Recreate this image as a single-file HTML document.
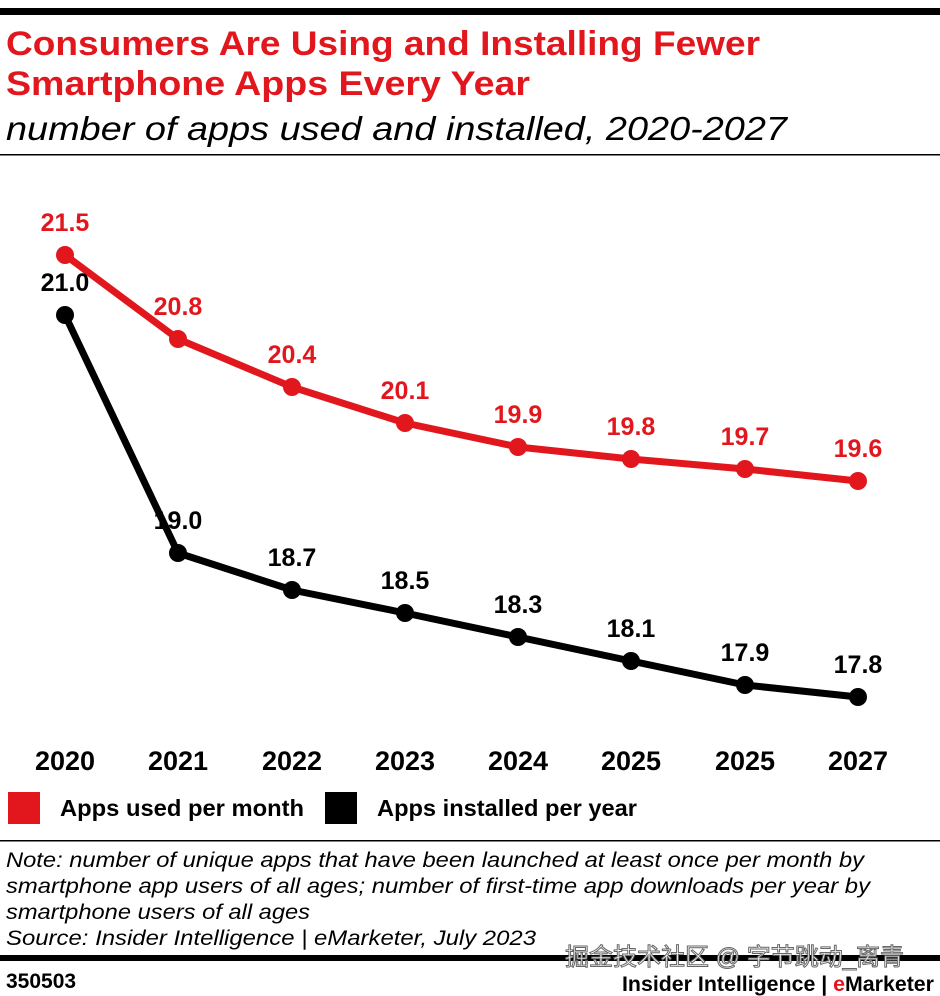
<!DOCTYPE html>
<html><head><meta charset="utf-8"><style>
body{margin:0;background:#fff;}
</style></head><body>
<svg width="940" height="996" xmlns="http://www.w3.org/2000/svg" style="display:block;font-family:'Liberation Sans',sans-serif">
<rect x="0" y="8" width="940" height="7" fill="#000"/>
<text x="6" y="55" font-size="34" font-weight="bold" fill="#e2171e" textLength="754" lengthAdjust="spacingAndGlyphs">Consumers Are Using and Installing Fewer</text>
<text x="6" y="95" font-size="34" font-weight="bold" fill="#e2171e" textLength="524" lengthAdjust="spacingAndGlyphs">Smartphone Apps Every Year</text>
<text x="6" y="140" font-size="33" font-style="italic" fill="#000" textLength="781" lengthAdjust="spacingAndGlyphs">number of apps used and installed, 2020-2027</text>
<rect x="0" y="154" width="940" height="1.5" fill="#000"/>
<polyline fill="none" stroke="#e2171e" stroke-width="7" stroke-linejoin="round" points="65,255 178,339 292,387 405,423 518,447 631,459 745,469 858,481"/>
<polyline fill="none" stroke="#000" stroke-width="7" stroke-linejoin="round" points="65,315 178,553 292,590 405,613 518,637 631,661 745,685 858,697"/>
<g fill="#e2171e"><circle cx="65" cy="255" r="9"/><circle cx="178" cy="339" r="9"/><circle cx="292" cy="387" r="9"/><circle cx="405" cy="423" r="9"/><circle cx="518" cy="447" r="9"/><circle cx="631" cy="459" r="9"/><circle cx="745" cy="469" r="9"/><circle cx="858" cy="481" r="9"/></g>
<g fill="#000"><circle cx="65" cy="315" r="9"/><circle cx="178" cy="553" r="9"/><circle cx="292" cy="590" r="9"/><circle cx="405" cy="613" r="9"/><circle cx="518" cy="637" r="9"/><circle cx="631" cy="661" r="9"/><circle cx="745" cy="685" r="9"/><circle cx="858" cy="697" r="9"/></g>
<g font-size="25" font-weight="bold" text-anchor="middle" fill="#e2171e">
<text x="65" y="231">21.5</text><text x="178" y="315">20.8</text><text x="292" y="363">20.4</text><text x="405" y="399">20.1</text><text x="518" y="423">19.9</text><text x="631" y="435">19.8</text><text x="745" y="445">19.7</text><text x="858" y="457">19.6</text></g>
<g font-size="25" font-weight="bold" text-anchor="middle" fill="#000">
<text x="65" y="291">21.0</text><text x="178" y="529">19.0</text><text x="292" y="566">18.7</text><text x="405" y="589">18.5</text><text x="518" y="613">18.3</text><text x="631" y="637">18.1</text><text x="745" y="661">17.9</text><text x="858" y="673">17.8</text></g>
<g font-size="27" font-weight="bold" text-anchor="middle" fill="#000">
<text x="65" y="770">2020</text><text x="178" y="770">2021</text><text x="292" y="770">2022</text><text x="405" y="770">2023</text><text x="518" y="770">2024</text><text x="631" y="770">2025</text><text x="745" y="770">2025</text><text x="858" y="770">2027</text></g>
<rect x="8" y="792" width="32" height="32" fill="#e2171e"/>
<text x="60" y="816" font-size="23" font-weight="bold" textLength="244" lengthAdjust="spacingAndGlyphs">Apps used per month</text>
<rect x="325" y="792" width="32" height="32" fill="#000"/>
<text x="377" y="816" font-size="23" font-weight="bold" textLength="260" lengthAdjust="spacingAndGlyphs">Apps installed per year</text>
<rect x="0" y="840" width="940" height="1.5" fill="#000"/>
<g font-size="21" font-style="italic" fill="#000" lengthAdjust="spacingAndGlyphs">
<text x="6" y="867" textLength="858" lengthAdjust="spacingAndGlyphs">Note: number of unique apps that have been launched at least once per month by</text>
<text x="6" y="893" textLength="864" lengthAdjust="spacingAndGlyphs">smartphone app users of all ages; number of first-time app downloads per year by</text>
<text x="6" y="919" textLength="304" lengthAdjust="spacingAndGlyphs">smartphone users of all ages</text>
<text x="6" y="945" textLength="530" lengthAdjust="spacingAndGlyphs">Source: Insider Intelligence | eMarketer, July 2023</text></g>
<rect x="0" y="955" width="940" height="6" fill="#000"/>
<text x="565" y="965" font-size="24" fill="#fff" stroke="#666" stroke-width="1" font-family="'Liberation Sans','Noto Sans CJK SC',sans-serif">掘金技术社区 @ 字节跳动_离青</text>
<text x="6" y="988" font-size="21" font-weight="bold">350503</text>
<text x="622" y="991" font-size="21" font-weight="bold" textLength="312" lengthAdjust="spacingAndGlyphs">Insider Intelligence | <tspan fill="#e2171e">e</tspan>Marketer</text>
</svg>
</body></html>
